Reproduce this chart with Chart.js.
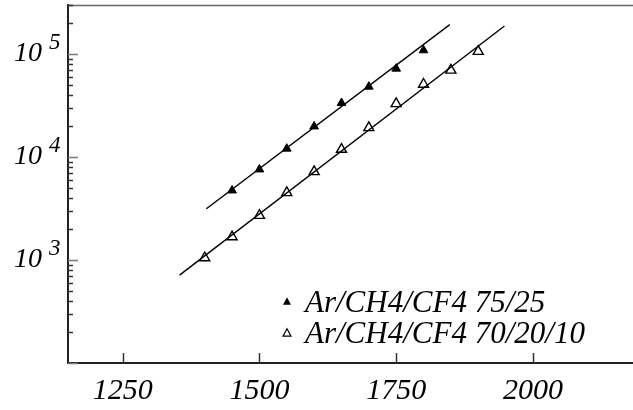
<!DOCTYPE html>
<html><head><meta charset="utf-8">
<script src="https://cdn.jsdelivr.net/npm/chart.js@4"></script>
<style>html,body{margin:0;padding:0;background:#fff}</style>
</head><body>
<canvas id="c" width="633" height="410"></canvas>
<script>
// ---- data ----
const seriesLabels = ['Ar/CH4/CF4 75/25', 'Ar/CH4/CF4 70/20/10'];
const voltA = [1450, 1500, 1550, 1600, 1650, 1700, 1750, 1800];
const gainA = [4740, 7590, 12070, 19850, 33500, 48300, 72300, 109000];
const voltB = [1400, 1450, 1500, 1550, 1600, 1650, 1700, 1750, 1800, 1850, 1900];
const gainB = [1050, 1680, 2710, 4510, 7210, 11880, 19300, 33000, 50900, 69700, 106000];
const fitVoltA = [1403, 1848];
const fitGainA = [3150, 193600];
const fitVoltB = [1354, 1948];
const fitGainB = [713, 187500];
const xTickValues = [1250, 1500, 1750, 2000];
const yMajorValues = [1000, 10000, 100000];
const yExponents = ['3', '4', '5'];
const xRange = [1150, 2183];
const yRange = [100, 300000];

const pts = (xs, ys) => xs.map((x, i) => ({x: x, y: ys[i]}));
const FONT = 'Liberation Serif';
const noPad = s => { s.paddingLeft = 0; s.paddingRight = 0; s.paddingTop = 0; s.paddingBottom = 0; };

const framePlugin = {
  id: 'frame',
  afterDraw(chart) {
    const ctx = chart.ctx, a = chart.chartArea;
    const xs = chart.scales.x, ys = chart.scales.y;
    ctx.save();
    // top frame line
    ctx.strokeStyle = '#666'; ctx.lineWidth = 1.5;
    ctx.beginPath(); ctx.moveTo(a.left, a.top + 0.5); ctx.lineTo(a.right, a.top + 0.5); ctx.stroke();
    // inward ticks
    ctx.strokeStyle = '#333'; ctx.lineWidth = 1.5;
    xTickValues.forEach(v => {
      const px = Math.round(xs.getPixelForValue(v)) + 0.5;
      ctx.beginPath(); ctx.moveTo(px, a.bottom); ctx.lineTo(px, a.bottom - 10); ctx.stroke();
    });
    for (let d = 100; d <= 100000; d *= 10) {
      for (let m = 1; m <= 9; m++) {
        const v = m * d;
        if (v < yRange[0] || v > yRange[1]) continue;
        const py = Math.round(ys.getPixelForValue(v)) + 0.5;
        const len = (m === 1) ? 10 : 5;
        ctx.strokeStyle = (m === 1) ? '#777' : '#333';
        ctx.beginPath(); ctx.moveTo(a.left, py); ctx.lineTo(a.left + len, py); ctx.stroke();
      }
    }
    // exponents of y labels
    ctx.fillStyle = '#000';
    ctx.font = 'italic 23px "' + FONT + '"';
    ctx.textAlign = 'left'; ctx.textBaseline = 'alphabetic';
    yMajorValues.forEach((v, i) => {
      const py = ys.getPixelForValue(v);
      ctx.fillText(yExponents[i], 49, py - 5);
    });
    // legend
    const legendRows = [
      {label: seriesLabels[0], fill: true, y: 311.5},
      {label: seriesLabels[1], fill: false, y: 343}
    ];
    legendRows.forEach(r => {
      const cx = 287, cy = r.y - 10, s = 4.2;
      ctx.beginPath();
      ctx.moveTo(cx, cy - s);
      ctx.lineTo(cx + s * 0.95, cy + s * 0.75);
      ctx.lineTo(cx - s * 0.95, cy + s * 0.75);
      ctx.closePath();
      if (r.fill) { ctx.fillStyle = '#000'; ctx.fill(); }
      else { ctx.strokeStyle = '#000'; ctx.lineWidth = 1.2; ctx.stroke(); }
      ctx.fillStyle = '#000';
      ctx.font = 'italic 31px "' + FONT + '"';
      ctx.fillText(r.label, 305, r.y);
    });
    ctx.restore();
  }
};

new Chart(document.getElementById('c'), {
  type: 'scatter',
  data: {
    datasets: [
      {label: seriesLabels[0], data: pts(voltA, gainA), pointStyle: 'triangle', pointRadius: 5,
       backgroundColor: '#000', borderColor: '#000', borderWidth: 1, order: 1},
      {label: seriesLabels[1], data: pts(voltB, gainB), pointStyle: 'triangle', pointRadius: 5.8,
       backgroundColor: 'rgba(0,0,0,0)', borderColor: '#000', borderWidth: 1.4, order: 1},
      {label: 'fitA', data: pts(fitVoltA, fitGainA), showLine: true, pointRadius: 0,
       borderColor: '#000', borderWidth: 1.4, order: 2},
      {label: 'fitB', data: pts(fitVoltB, fitGainB), showLine: true, pointRadius: 0,
       borderColor: '#000', borderWidth: 1.4, order: 2}
    ]
  },
  options: {
    responsive: false,
    animation: false,
    devicePixelRatio: 1,
    layout: {autoPadding: false, padding: {left: 0, top: 5, right: 0, bottom: 0}},
    plugins: {legend: {display: false}, tooltip: {enabled: false}},
    scales: {
      x: {
        type: 'linear', min: xRange[0], max: xRange[1],
        afterBuildTicks: s => { s.ticks = xTickValues.map(v => ({value: v})); },
        afterFit: s => { s.height = 47; noPad(s); },
        grid: {display: false, drawTicks: false},
        border: {display: true, color: '#222', width: 2},
        ticks: {color: '#000', padding: 10, font: {family: FONT, style: 'italic', size: 30},
                callback: v => String(v)}
      },
      y: {
        type: 'logarithmic', min: yRange[0], max: yRange[1],
        afterBuildTicks: s => { s.ticks = yMajorValues.map(v => ({value: v, major: true})); },
        afterFit: s => { s.width = 68; noPad(s); },
        grid: {display: false, drawTicks: false},
        border: {display: true, color: '#222', width: 2},
        ticks: {color: '#000', padding: 26, font: {family: FONT, style: 'italic', size: 28},
                callback: v => '10'}
      }
    }
  },
  plugins: [framePlugin]
});
</script>
</body></html>
